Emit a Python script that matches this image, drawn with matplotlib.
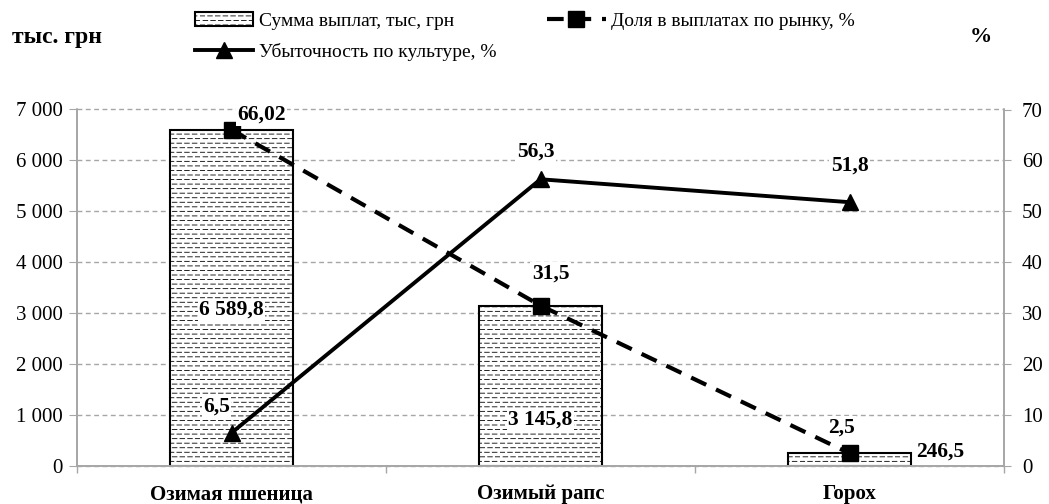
import matplotlib
matplotlib.use('Agg')
import matplotlib.pyplot as plt
import numpy as np
from matplotlib import hatch as mhatch
from matplotlib.path import Path
from matplotlib.ticker import FuncFormatter, FixedLocator

# ---------------- data ----------------
categories = ['Озимая пшеница', 'Озимый рапс', 'Горох']
payments = [6589.8, 3145.8, 246.5]          # тыс. грн (left axis)
market_share = [66.02, 31.5, 2.5]           # % (right axis)
loss_ratio = [6.5, 56.3, 51.8]              # % (right axis)
payment_labels = ['6 589,8', '3 145,8', '246,5']
share_labels = ['66,02', '31,5', '2,5']
loss_labels = ['6,5', '56,3', '51,8']
left_ticks = [0, 1000, 2000, 3000, 4000, 5000, 6000, 7000]
right_ticks = [0, 10, 20, 30, 40, 50, 60, 70]

# ---------------- custom dashed-row hatch ----------------
class DashRowsHatch(mhatch.HatchPatternBase):
    rows = 22
    per_row = 13
    frac = 0.6

    def __init__(self, hatch, density):
        if hatch.count('-') > 0:
            self.num_vertices = self.rows * self.per_row * 2
        else:
            self.num_vertices = 0

    def set_vertices_and_codes(self, vertices, codes):
        k = 0
        for i in range(self.rows):
            y = (i + 0.5) / self.rows
            off = 0.0 if i % 2 == 0 else 0.4
            for j in range(self.per_row):
                x0 = (j + off) / self.per_row
                x1 = x0 + self.frac / self.per_row
                vertices[k] = (x0, y)
                vertices[k + 1] = (min(x1, 1.0), y)
                codes[k] = Path.MOVETO
                codes[k + 1] = Path.LINETO
                k += 2

hatch_ok = True
try:
    mhatch._hatch_types = [t for t in mhatch._hatch_types if t is not mhatch.HorizontalHatch]
    mhatch._hatch_types.insert(0, DashRowsHatch)
except Exception:
    hatch_ok = False

plt.rcParams['font.family'] = ['Liberation Serif', 'DejaVu Serif']
plt.rcParams['hatch.linewidth'] = 0.6
plt.rcParams['hatch.color'] = 'black'

W, H, DPI = 1049, 504, 100
fig = plt.figure(figsize=(W / DPI, H / DPI), dpi=DPI)
L, R, T, B = 77, 1004, 109.5, 466
ax = fig.add_axes([L / W, 1 - B / H, (R - L) / W, (B - T) / H])
ax2 = ax.twinx()

grey = '#a6a6a6'
x = np.arange(len(categories))

# bars
bars = ax.bar(x, payments, width=0.4, facecolor='white', edgecolor='black',
              linewidth=1.5, hatch='-' if hatch_ok else '....', zorder=2,
              label='Сумма выплат, тыс, грн')

ax.set_xlim(-0.5, 2.5)
ax.set_ylim(0, 7000)
ax2.set_ylim(0, 70)
ax.set_yticks(left_ticks)
ax2.set_yticks(right_ticks)
ax.yaxis.set_major_formatter(FuncFormatter(lambda v, p: f'{int(v):,}'.replace(',', ' ')))
ax.set_xticks(x)
ax.set_xticklabels(categories, fontsize=15, fontweight='bold')
ax.xaxis.set_minor_locator(FixedLocator([-0.5, 0.5, 1.5, 2.5]))
ax.tick_params(axis='x', which='major', length=0, pad=13)
ax.tick_params(axis='x', which='minor', length=5, color=grey, width=1)
ax.tick_params(axis='y', length=6, color=grey, labelsize=15, pad=4)
ax2.tick_params(axis='y', length=5, color=grey, labelsize=15, pad=8)

ax.grid(axis='y', color=grey, linestyle=(0, (3.5, 2.5)), linewidth=1.0, zorder=0)
for gl in ax.get_ygridlines():
    gl.set_clip_on(False)
ax.set_axisbelow(True)
for a in (ax, ax2):
    a.spines['top'].set_visible(False)
    for s in ('left', 'right', 'bottom'):
        a.spines[s].set_color(grey)
        a.spines[s].set_linewidth(1.2)

ax2.set_zorder(ax.get_zorder() + 1)
ax2.patch.set_visible(False)

# lines
l_share, = ax2.plot(x, market_share, color='black', linewidth=3.0,
                    linestyle=(0, (4.0, 2.6)), marker='s', markersize=12,
                    label='Доля в выплатах по рынку, %', zorder=4)
l_loss, = ax2.plot(x, loss_ratio, color='black', linewidth=2.8,
                   linestyle='-', marker='^', markersize=12,
                   label='Убыточность по культуре, %', zorder=4)

px = 0.72  # pixels -> points
lab_kw = dict(fontsize=15.5, fontweight='bold', ha='center', va='center',
              textcoords='offset points', zorder=6, annotation_clip=False,
              bbox=dict(facecolor='white', edgecolor='none', pad=1.0))

share_off = [(30, 15), (10, 32), (-8, 26)]
for i, (v, t) in enumerate(zip(market_share, share_labels)):
    ax2.annotate(t, (x[i], v), xytext=(share_off[i][0] * px, share_off[i][1] * px), **lab_kw)

loss_off = [(-15, 26), (-5, 28), (0, 37)]
for i, (v, t) in enumerate(zip(loss_ratio, loss_labels)):
    ax2.annotate(t, (x[i], v), xytext=(loss_off[i][0] * px, loss_off[i][1] * px), **lab_kw)

pay_off = [(0, 156), (0, 46), (91, 14)]
for i, t in enumerate(payment_labels):
    ax2.annotate(t, (x[i], 0), xytext=(pay_off[i][0] * px, pay_off[i][1] * px), **lab_kw)

# axis titles
fig.text(12 / W, 1 - 37 / H, 'тыс. грн', fontsize=17, fontweight='bold', ha='left', va='center')
fig.text(981 / W, 1 - 37 / H, '%', fontsize=16, fontweight='bold', ha='center', va='center')

# legend
fig.legend([bars, l_loss, l_share],
           ['Сумма выплат, тыс, грн', 'Убыточность по культуре, %', 'Доля в выплатах по рынку, %'],
           loc='upper left', bbox_to_anchor=(195 / W, 1 - 12 / H), ncol=2, frameon=False,
           fontsize=14, handlelength=3.0, handletextpad=0.3, columnspacing=2.6,
           labelspacing=0.7, borderpad=0, borderaxespad=0)

fig.savefig('out.png', dpi=DPI)
